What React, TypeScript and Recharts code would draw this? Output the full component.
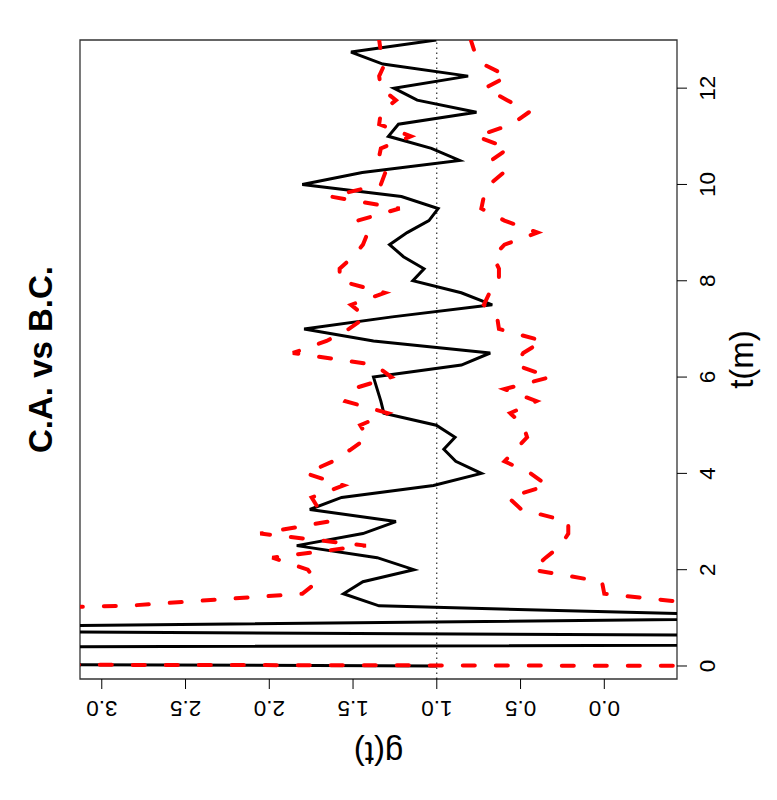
import React from 'react';
import { LineChart, Line, XAxis, YAxis, ReferenceLine, ReferenceArea } from 'recharts';

const T_VALUES = [
  0, 0.25, 0.5, 0.75, 1, 1.25, 1.5, 1.75, 2, 2.25, 2.5, 2.75, 3, 3.25, 3.5, 3.75,
  4, 4.25, 4.5, 4.75, 5, 5.25, 5.5, 5.75, 6, 6.25, 6.5, 6.75, 7, 7.25, 7.5, 7.75,
  8, 8.25, 8.5, 8.75, 9, 9.25, 9.5, 9.75, 10, 10.25, 10.5, 10.75, 11, 11.25, 11.5, 11.75,
  12, 12.25, 12.5, 12.75, 13,
];

const OBSERVED = [
  1.0, 21.6, -9, 5.8, -1.4, 1.345, 1.557, 1.441, 1.137, 1.356, 1.836, 1.441, 1.244, 1.758, 1.568, 1.02,
  0.734, 0.887, 0.958, 0.891, 1.003, 1.316, 1.334, 1.356, 1.378, 0.853, 0.681, 1.378, 1.792, 1.266, 0.669, 0.854,
  1.143, 1.076, 1.199, 1.282, 1.177, 1.047, 0.992, 1.211, 1.803, 1.445, 0.864, 1.032, 1.289, 1.229, 0.763, 1.117,
  1.256, 0.813, 1.322, 1.512, 1.003,
];

const UPPER_ENV = [
  -1.0, 40, 20, 12, 6.5, 2.85, 1.803, 1.713, 1.77, 1.982, 1.423, 2.054, 1.647, 1.703, 1.747, 1.557,
  1.781, 1.62, 1.512, 1.412, 1.457, 1.293, 1.546, 1.508, 1.271, 1.367, 1.859, 1.658, 1.524, 1.423, 1.512, 1.311,
  1.58, 1.58, 1.501, 1.441, 1.412, 1.472, 1.222, 1.635, 1.334, 1.307, 1.349, 1.334, 1.155, 1.344, 1.334, 1.244,
  1.334, 1.344, 1.311, 1.334, 1.344,
];

const LOWER_ENV = [
  -40, -20, -12, -6, -3, -0.68, 0.0, 0.014, 0.428, 0.35, 0.26, 0.215, 0.215, 0.495, 0.573, 0.339,
  0.44, 0.596, 0.528, 0.461, 0.484, 0.562, 0.405, 0.596, 0.323, 0.528, 0.484, 0.368, 0.629, 0.64, 0.719, 0.685,
  0.629, 0.629, 0.663, 0.596, 0.399, 0.596, 0.734, 0.719, 0.685, 0.6, 0.674, 0.573, 0.763, 0.551, 0.45, 0.58,
  0.712, 0.578, 0.725, 0.774, 0.797,
];

const T_TICKS = [0, 2, 4, 6, 8, 10, 12];
const G_TICKS = [0, 0.5, 1, 1.5, 2, 2.5, 3];

const TITLE = 'C.A. vs B.C.';
const X_LABEL = 't(m)';
const Y_LABEL = 'g(t)';

const FONT = '"Liberation Sans", Arial, Helvetica, sans-serif';

const DATA = T_VALUES.map((t, i) => ({
  t,
  observed: OBSERVED[i],
  upper: UPPER_ENV[i],
  lower: LOWER_ENV[i],
}));

const YTick = (props: any) => {
  const { x, y, payload } = props;
  return (
    <text
      x={x}
      y={y}
      transform={`rotate(-90, ${x}, ${y})`}
      textAnchor="middle"
      fontSize={22.5}
      fontFamily={FONT}
      fill="#000"
    >
      {Number(payload.value).toFixed(1)}
    </text>
  );
};

export default function App() {
  return (
    <div style={{ position: 'absolute', left: 0, top: 0, width: 777, height: 800, overflow: 'hidden', background: '#fff' }}>
      <div
        style={{
          position: 'absolute',
          left: 0,
          top: 800,
          width: 800,
          height: 777,
          transform: 'rotate(-90deg)',
          transformOrigin: '0 0',
        }}
      >
        <LineChart width={800} height={777} data={DATA} margin={{ top: 80, right: 40, bottom: 0, left: 0 }}>
          <XAxis
            dataKey="t"
            type="number"
            domain={[-0.27, 13.0]}
            allowDataOverflow
            ticks={T_TICKS}
            height={100}
            axisLine={false}
            tickSize={10}
            tickMargin={12}
            tickLine={{ stroke: '#000' }}
            tick={{ fontSize: 22.5, fill: '#000', fontFamily: FONT }}
          />
          <YAxis
            type="number"
            domain={[-0.434, 3.13]}
            allowDataOverflow
            ticks={G_TICKS}
            width={121}
            axisLine={false}
            tickSize={10}
            tickMargin={12}
            tickLine={{ stroke: '#000' }}
            tick={<YTick />}
          />
          <ReferenceLine y={1} stroke="#000" strokeWidth={1} strokeDasharray="1.5 3.5" />
          <Line
            dataKey="observed"
            type="linear"
            stroke="#000"
            strokeWidth={3}
            dot={false}
            isAnimationActive={false}
          />
          <Line
            dataKey="upper"
            type="linear"
            stroke="#ff0000"
            strokeWidth={4}
            strokeDasharray="12 21"
            strokeLinecap="round"
            dot={false}
            isAnimationActive={false}
          />
          <Line
            dataKey="lower"
            type="linear"
            stroke="#ff0000"
            strokeWidth={4}
            strokeDasharray="12 21"
            strokeLinecap="round"
            dot={false}
            isAnimationActive={false}
          />
          <ReferenceArea
            x1={-0.27}
            x2={13.0}
            y1={-0.434}
            y2={3.13}
            fill="none"
            fillOpacity={0}
            stroke="#333"
            strokeWidth={1.3}
            ifOverflow="visible"
          />
        </LineChart>
        <svg
          width={800}
          height={777}
          style={{ position: 'absolute', left: 0, top: 0, pointerEvents: 'none' }}
        >
          <text x={440.5} y={52} textAnchor="middle" fontSize={33} fontWeight="bold" fontFamily={FONT} fill="#000">
            {TITLE}
          </text>
          <text x={440.5} y={753} textAnchor="middle" fontSize={33} fontFamily={FONT} fill="#000">
            {X_LABEL}
          </text>
          <text
            x={58}
            y={378.5}
            transform="rotate(-90, 58, 378.5)"
            textAnchor="middle"
            fontSize={33}
            fontFamily={FONT}
            fill="#000"
          >
            {Y_LABEL}
          </text>
        </svg>
      </div>
    </div>
  );
}
